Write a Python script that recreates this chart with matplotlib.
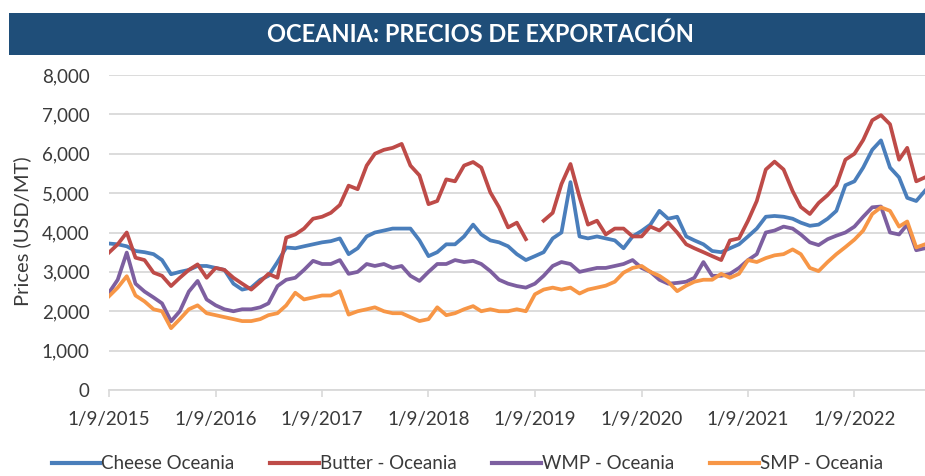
import matplotlib.pyplot as plt
from matplotlib.patches import Rectangle
from matplotlib.ticker import FuncFormatter
import numpy as np
import pandas as pd

# Precios de exportacion Oceania (USD/MT), mensual desde 1/9/2015
fechas = pd.date_range('2015-09-01', periods=93, freq='MS')

cheese = [3720, 3700, 3650, 3530, 3500, 3450, 3300, 2940, 3000, 3050, 3150, 3150,
          3100, 3050, 2700, 2550, 2600, 2800, 2900, 3250, 3620, 3600, 3650, 3700,
          3750, 3780, 3850, 3450, 3600, 3900, 4000, 4050, 4100, 4100, 4100, 3800,
          3400, 3500, 3700, 3700, 3900, 4200, 3950, 3800, 3750, 3650, 3450, 3300,
          3400, 3500, 3850, 4000, 5280, 3900, 3850, 3900, 3850, 3800, 3600, 3900,
          4040, 4200, 4550, 4350, 4400, 3900, 3800, 3700, 3530, 3500, 3600, 3700,
          3900, 4100, 4400, 4420, 4400, 4350, 4250, 4170, 4200, 4350, 4550, 5200,
          5300, 5650, 6100, 6340, 5650, 5400, 4880, 4800, 5060]

butter = [3490, 3700, 4000, 3360, 3300, 2980, 2900, 2640, 2850, 3050, 3190, 2850,
          3100, 3050, 2850, 2700, 2550, 2750, 2950, 2850, 3870, 3950, 4100, 4350,
          4400, 4500, 4700, 5190, 5100, 5700, 6000, 6100, 6150, 6250, 5700, 5450,
          4720, 4800, 5350, 5300, 5700, 5790, 5650, 5020, 4640, 4130, 4250, 3830,
          np.nan, 4300, 4500, 5230, 5740, 4900, 4200, 4300, 3950, 4100, 4100, 3900,
          3900, 4150, 4050, 4250, 4000, 3700, 3600, 3500, 3400, 3300, 3800, 3850,
          4300, 4800, 5600, 5800, 5600, 5050, 4650, 4470, 4750, 4950, 5200, 5850,
          6000, 6350, 6850, 6980, 6750, 5850, 6150, 5300, 5400]

wmp = [2470, 2800, 3490, 2700, 2500, 2350, 2200, 1745, 2000, 2500, 2770, 2300,
       2150, 2050, 2000, 2050, 2050, 2100, 2200, 2640, 2800, 2850, 3050, 3280,
       3200, 3200, 3300, 2950, 3000, 3200, 3150, 3200, 3100, 3150, 2900, 2770,
       3000, 3200, 3200, 3300, 3250, 3280, 3200, 3020, 2800, 2700, 2640, 2600,
       2700, 2900, 3150, 3250, 3200, 3000, 3050, 3100, 3100, 3150, 3200, 3300,
       3100, 3000, 2800, 2700, 2720, 2750, 2850, 3250, 2900, 2900, 2950, 3100,
       3300, 3450, 4000, 4050, 4150, 4100, 3950, 3750, 3680, 3830, 3920, 4000,
       4150, 4400, 4640, 4660, 4000, 3950, 4200, 3550, 3600]

smp = [2380, 2600, 2890, 2400, 2250, 2050, 2000, 1570, 1800, 2050, 2150, 1950,
       1900, 1850, 1800, 1750, 1750, 1800, 1900, 1950, 2150, 2470, 2300, 2350,
       2400, 2400, 2510, 1915, 2000, 2050, 2100, 2000, 1950, 1950, 1850, 1750,
       1800, 2100, 1900, 1950, 2050, 2130, 2000, 2050, 2000, 2000, 2050, 2000,
       2430, 2550, 2600, 2550, 2600, 2450, 2550, 2600, 2650, 2750, 2980, 3100,
       3150, 3000, 2900, 2750, 2510, 2650, 2750, 2800, 2800, 2950, 2850, 2950,
       3300, 3250, 3350, 3420, 3450, 3570, 3450, 3100, 3020, 3250, 3450, 3630,
       3820, 4050, 4470, 4640, 4550, 4150, 4280, 3620, 3700]

series = [
    ('Cheese Oceania', cheese, '#4A7EBB'),
    ('Butter - Oceania', butter, '#BE4B48'),
    ('WMP - Oceania', wmp, '#7D5FA0'),
    ('SMP - Oceania', smp, '#F79646'),
]

ticks = pd.date_range('2015-09-01', '2022-09-01', freq='12MS')

fuente = 'Lato'
gris = '#3A3A3A'

fig = plt.figure(figsize=(9.25, 4.76), dpi=100)

# banda del titulo
fig.patches.append(Rectangle((0.0097, 0.8845), 0.9903, 0.0882, transform=fig.transFigure,
                             facecolor='#1F4E79', edgecolor='none'))
fig.text(0.519, 0.9286, 'OCEANIA: PRECIOS DE EXPORTACIÓN', color='white', fontsize=17,
         fontweight='bold', family=fuente, ha='center', va='center')

ax = fig.add_axes([0.1178, 0.1807, 0.8822, 0.6617])
for nombre, valores, color in series:
    ax.plot(fechas, valores, color=color, lw=2.7, label=nombre, solid_joinstyle='round')

ax.set_ylim(0, 8000)
ax.set_yticks(range(0, 8001, 1000))
ax.yaxis.set_major_formatter(FuncFormatter(lambda v, p: format(int(v), ',')))
ax.set_xlim(pd.Timestamp('2015-09-01'), pd.Timestamp('2023-05-01'))
ax.set_xticks(ticks)
ax.set_xticklabels([f'{d.day}/{d.month}/{d.year}' for d in ticks])

ax.grid(axis='y', color='#D9D9D9', lw=1.3)
ax.set_axisbelow(True)
for lado in ['top', 'right', 'left']:
    ax.spines[lado].set_visible(False)
ax.spines['bottom'].set_color('#D9D9D9')
ax.spines['bottom'].set_linewidth(1.3)
ax.tick_params(axis='y', length=0, pad=14, labelsize=13.5, labelcolor=gris)
ax.tick_params(axis='x', length=5, width=1.2, color='#D9D9D9', pad=10, labelsize=13.5,
               labelcolor=gris)
for t in ax.get_xticklabels() + ax.get_yticklabels():
    t.set_family(fuente)

fig.text(0.024, 0.515, 'Prices (USD/MT)', rotation=90, fontsize=14.5, color=gris,
         family=fuente, ha='center', va='center')

leg = fig.legend(loc='center', bbox_to_anchor=(0.505, 0.026), ncol=4, frameon=False,
                 handlelength=2.6, handletextpad=0.05, columnspacing=1.9,
                 prop={'family': fuente, 'size': 13.5})
for t in leg.get_texts():
    t.set_color(gris)
for l in leg.get_lines():
    l.set_linewidth(3)

fig.savefig('out.png', dpi=100)
